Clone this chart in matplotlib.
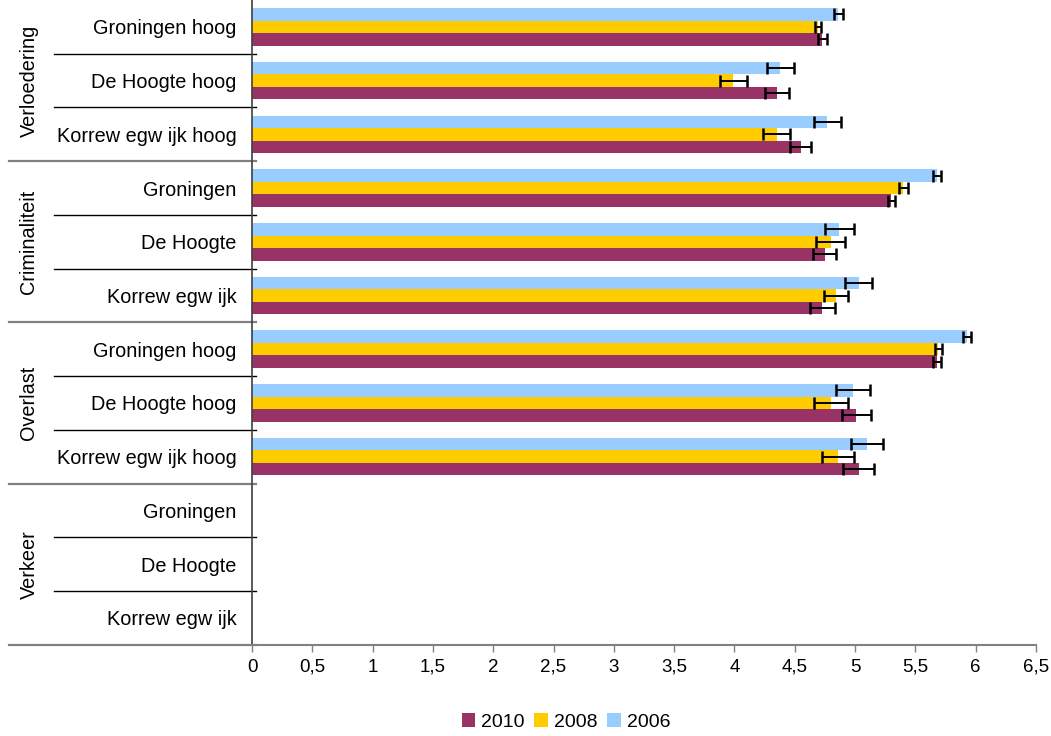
import numpy as np
import matplotlib.pyplot as plt
from matplotlib.transforms import blended_transform_factory

plt.rcParams['font.family'] = ['Liberation Sans', 'DejaVu Sans']

# categories, top to bottom
groups = ["Verloedering", "Criminaliteit", "Overlast", "Verkeer"]
labels = ["Groningen hoog", "De Hoogte hoog", "Korrew egw ijk hoog",
          "Groningen", "De Hoogte", "Korrew egw ijk",
          "Groningen hoog", "De Hoogte hoog", "Korrew egw ijk hoog",
          "Groningen", "De Hoogte", "Korrew egw ijk"]

nan = np.nan
v2010 = [4.73, 4.35, 4.55, 5.30, 4.75, 4.73, 5.68, 5.01, 5.03, nan, nan, nan]
v2008 = [4.69, 3.99, 4.35, 5.40, 4.80, 4.84, 5.69, 4.80, 4.86, nan, nan, nan]
v2006 = [4.86, 4.38, 4.77, 5.68, 4.87, 5.03, 5.93, 4.98, 5.10, nan, nan, nan]
e2010 = [0.035, 0.10, 0.087, 0.03, 0.095, 0.10, 0.03, 0.12, 0.127, nan, nan, nan]
e2008 = [0.025, 0.11, 0.11, 0.036, 0.12, 0.10, 0.028, 0.14, 0.13, nan, nan, nan]
e2006 = [0.037, 0.11, 0.11, 0.03, 0.12, 0.11, 0.033, 0.14, 0.135, nan, nan, nan]

years = ["2010", "2008", "2006"]
colors = ["#993366", "#FFCC00", "#99CCFF"]

fig = plt.figure(figsize=(10.51, 7.36), dpi=100, facecolor='w')
ax = fig.add_axes([0.2398, 0.124, 0.7459, 0.876])

y = np.arange(len(labels))
h = 0.233
series = [(v2010, e2010, h), (v2008, e2008, 0.0), (v2006, e2006, -h)]
for (vals, errs, off), col, yr in zip(series, colors, years):
    ax.barh(y + off, vals, height=h, color=col, label=yr, zorder=2)
    ax.errorbar(vals, y + off, xerr=errs, fmt='none', ecolor='black',
                elinewidth=1.4, capsize=4.5, capthick=1.8, zorder=3)

ax.set_ylim(len(labels) - 0.5, -0.5)
ax.set_xlim(0, 6.5)
ticks = np.arange(0, 6.51, 0.5)
ax.set_xticks(ticks)
ax.set_xticklabels([("%g" % t).replace('.', ',') for t in ticks], fontsize=13.5)
ax.set_yticks(y)
ax.set_yticklabels(labels, fontsize=14.3)
ax.tick_params(axis='y', length=0, pad=11)
ax.tick_params(axis='x', direction='out', length=5, width=1, color='#808080', pad=5)
for t in ax.get_yticklabels():
    t.set_y(t.get_position()[1])

for s in ['top', 'right']:
    ax.spines[s].set_visible(False)
ax.spines['left'].set_color('#404040')
ax.spines['left'].set_linewidth(1.2)
ax.spines['bottom'].set_color('#808080')
ax.spines['bottom'].set_linewidth(1.5)

# two-level axis: separators and group names
tr = blended_transform_factory(ax.transAxes, ax.transData)
for b in [2.5, 5.5, 8.5, 11.5]:
    ax.plot([-0.31, 0.005], [b, b], transform=tr, color='#808080', lw=1.6, clip_on=False)
for b in [0.5, 1.5, 3.5, 4.5, 6.5, 7.5, 9.5, 10.5]:
    ax.plot([-0.2526, 0.005], [b, b], transform=tr, color='black', lw=1.0, clip_on=False)
for i, g in enumerate(groups):
    ax.text(-0.2845, 3 * i + 1, g, transform=tr, rotation=90,
            ha='center', va='center', fontsize=14.3)

fig.legend(loc='center', bbox_to_anchor=(0.5385, 0.019), ncol=3, frameon=False,
           fontsize=14, handlelength=0.7, handleheight=0.7, handletextpad=0.3,
           columnspacing=0.5)

fig.savefig('out.png', dpi=100)
